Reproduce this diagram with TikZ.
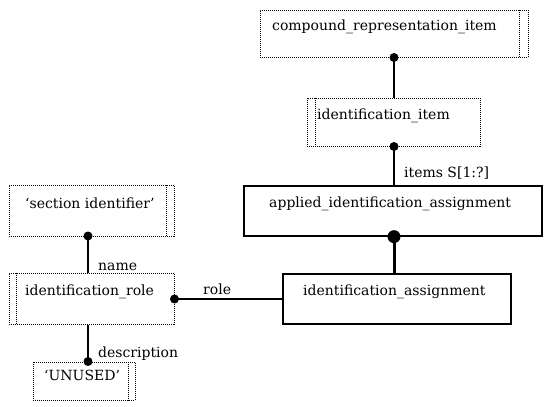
\documentclass[tikz,border=0pt]{standalone}
\usepackage{fontspec}
\setmainfont{DejaVu Serif}
\usetikzlibrary{calc}
\begin{document}
\begin{tikzpicture}[x=1pt,y=-1pt,
  sbox/.style={draw,line width=1.3pt,rectangle,inner sep=0pt},
  dbox/.style={draw,line width=1pt,densely dotted,rectangle,inner sep=0pt},
  dline/.style={line width=1pt,densely dotted},
  txt/.style={anchor=base west,inner sep=0pt,font=\fontsize{14}{17}\selectfont},
  conn/.style={line width=1.8pt},
  thick conn/.style={line width=3pt}]
\useasboundingbox (0,0) rectangle (550,407);

% boxes
\node[dbox,minimum width=268pt,minimum height=47pt] (cri) at (394,33.5) {};
\node[dbox,minimum width=173pt,minimum height=48pt] (iitem) at (393.5,122) {};
\node[sbox,minimum width=298pt,minimum height=50pt] (aia) at (393,211) {};
\node[sbox,minimum width=228pt,minimum height=50pt] (ia) at (397,299) {};
\node[dbox,minimum width=165pt,minimum height=51pt] (sid) at (91.5,210.5) {};
\node[dbox,minimum width=165pt,minimum height=51pt] (irole) at (91.5,298.5) {};
\node[dbox,minimum width=102pt,minimum height=38pt] (unused) at (84,381) {};

% double bars
\draw[dline] ([xshift=-9pt]cri.north east) -- ([xshift=-9pt]cri.south east);
\draw[dline] ([xshift=9pt]iitem.north west) -- ([xshift=9pt]iitem.south west);
\draw[dline] ([xshift=-8pt]sid.north east) -- ([xshift=-8pt]sid.south east);
\draw[dline] ([xshift=8pt]irole.north west) -- ([xshift=8pt]irole.south west);
\draw[dline] ([xshift=-7pt]unused.north east) -- ([xshift=-7pt]unused.south east);

% texts
\node[txt] (t-cri) at (272,30) {compound\_representation\_item};
\node[txt] (t-iitem) at (317,119) {identification\_item};
\node[txt] (t-aia) at (269,207) {applied\_identification\_assignment};
\node[txt] (t-ia) at (303,295) {identification\_assignment};
\node[txt] (t-sid) at (25,208) {‘section identifier’};
\node[txt] (t-irole) at (25,295) {identification\_role};
\node[txt] (t-unused) at (44,380) {‘UNUSED’};

% connector coordinates
\coordinate (c1a) at (cri.south);
\coordinate (c1b) at (iitem.north -| cri.south);
\coordinate (c2a) at (iitem.south -| cri.south);
\coordinate (c2b) at (aia.north -| cri.south);
\coordinate (c3a) at (aia.south -| cri.south);
\coordinate (c3b) at (ia.north -| cri.south);
\coordinate (c4a) at (88,236);
\coordinate (c4b) at (irole.north -| c4a);
\coordinate (c5a) at (irole.east |- 0,299);
\coordinate (c5b) at (ia.west |- c5a);
\coordinate (c6a) at (irole.south -| c4a);
\coordinate (c6b) at (unused.north -| c4a);

% connectors
\draw[conn] (c1a) -- (c1b);
\fill (c1a) circle (4.5);
\draw[conn] (c2a) -- (c2b);
\fill (c2a) circle (4.5);
\draw[thick conn] (c3a) -- (c3b);
\fill (c3a) circle (6.5);
\draw[conn] (c4a) -- (c4b);
\fill (c4a) circle (4.5);
\draw[conn] (c5a) -- (c5b);
\fill (c5a) circle (4.5);
\draw[conn] (c6a) -- (c6b);
\fill (c6b) circle (4.5);

% labels
\node[txt] (l-items) at (404,177) {items S[1:?]};
\node[txt] (l-name) at (98,270) {name};
\node[txt] (l-role) at (203,294) {role};
\node[txt] (l-desc) at (98,357) {description};
\end{tikzpicture}
\end{document}
